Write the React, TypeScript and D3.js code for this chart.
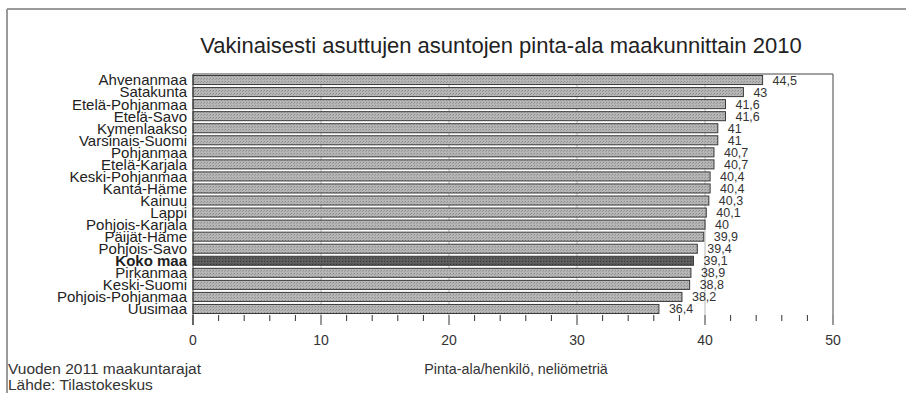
import React from "react";
import * as d3 from "d3";

const regions = [
  "Ahvenanmaa", "Satakunta", "Etelä-Pohjanmaa", "Etelä-Savo", "Kymenlaakso",
  "Varsinais-Suomi", "Pohjanmaa", "Etelä-Karjala", "Keski-Pohjanmaa", "Kanta-Häme",
  "Kainuu", "Lappi", "Pohjois-Karjala", "Päijät-Häme", "Pohjois-Savo",
  "Koko maa", "Pirkanmaa", "Keski-Suomi", "Pohjois-Pohjanmaa", "Uusimaa",
];
const areas = [44.5, 43, 41.6, 41.6, 41, 41, 40.7, 40.7, 40.4, 40.4, 40.3, 40.1, 40, 39.9, 39.4, 39.1, 38.9, 38.8, 38.2, 36.4];
const majorTicks = [0, 10, 20, 30, 40, 50];
const minorTicks = d3.range(0, 51, 2);
const highlight = "Koko maa";

const title = "Vakinaisesti asuttujen asuntojen pinta-ala maakunnittain 2010";
const xTitle = "Pinta-ala/henkilö, neliömetriä";
const note1 = "Vuoden 2011 maakuntarajat";
const note2 = "Lähde: Tilastokeskus";

const W = 906, H = 393;
const left = 193, right = 833, top = 74, bottom = 315;
const font = "'Liberation Sans', Arial, sans-serif";
const fmt = (v: number) => String(v).replace(".", ",");

export default function App() {
  const x = d3.scaleLinear().domain([0, 50]).range([left, right]);
  const y = d3.scaleBand<string>().domain(regions).range([top, bottom]).paddingInner(0.25).paddingOuter(0.125);
  return (
    <svg width={W} height={H} style={{ position: "absolute", left: 0, top: 0, background: "#fff" }} fontFamily={font}>
      <defs>
        <pattern id="stip" width="3" height="3" patternUnits="userSpaceOnUse">
          <rect width="3" height="3" fill="#b6b6b6" />
          <rect x="0" y="0" width="1" height="1" fill="#8a8a8a" />
          <rect x="2" y="1" width="1" height="1" fill="#9a9a9a" />
        </pattern>
        <pattern id="stipDark" width="3" height="3" patternUnits="userSpaceOnUse">
          <rect width="3" height="3" fill="#5a5a5a" />
          <rect x="0" y="0" width="1" height="1" fill="#3a3a3a" />
          <rect x="2" y="1" width="1" height="1" fill="#6e6e6e" />
        </pattern>
      </defs>
      <line x1={7} y1={9} x2={W} y2={9} stroke="#9a9a9a" strokeWidth={2} />
      <line x1={7} y1={9} x2={7} y2={H} stroke="#9a9a9a" strokeWidth={2} />
      <text x={501} y={53} textAnchor="middle" fontSize={22} fill="#222">{title}</text>
      {majorTicks.slice(1, -1).map((t) => (
        <line key={"g" + t} x1={x(t)} x2={x(t)} y1={top} y2={bottom} stroke="#b8b8b8" strokeWidth={1} />
      ))}
      {regions.map((r, i) => {
        const yy = y(r)!;
        const hl = r === highlight;
        return (
          <g key={r}>
            <rect x={x(0)} y={yy} width={x(areas[i]) - x(0)} height={y.bandwidth()}
              fill={hl ? "url(#stipDark)" : "url(#stip)"} stroke="#3a3a3a" strokeWidth={1} />
            <text x={187} y={yy + y.bandwidth() / 2} dy="0.36em" textAnchor="end" fontSize={15}
              fontWeight={hl ? "bold" : "normal"} fill="#222">{r}</text>
            <text x={x(areas[i]) + 10} y={yy + y.bandwidth() / 2} dy="0.36em" fontSize={12.5} fill="#333">{fmt(areas[i])}</text>
          </g>
        );
      })}
      <line x1={left} y1={top} x2={right} y2={top} stroke="#444" />
      <line x1={right} y1={top} x2={right} y2={bottom} stroke="#444" />
      <line x1={left} y1={top} x2={left} y2={325} stroke="#333" />
      {minorTicks.map((t) => (
        <line key={"m" + t} x1={x(t)} x2={x(t)} y1={bottom} y2={majorTicks.includes(t) ? 325 : 321} stroke="#333" />
      ))}
      {majorTicks.map((t) => (
        <text key={"t" + t} x={x(t)} y={345} textAnchor="middle" fontSize={14} fill="#333">{t}</text>
      ))}
      <text x={516} y={374} textAnchor="middle" fontSize={14.3} fill="#333">{xTitle}</text>
      <text x={8} y={374} fontSize={15.5} fill="#333">{note1}</text>
      <text x={8} y={390} fontSize={15.5} fill="#333">{note2}</text>
    </svg>
  );
}
